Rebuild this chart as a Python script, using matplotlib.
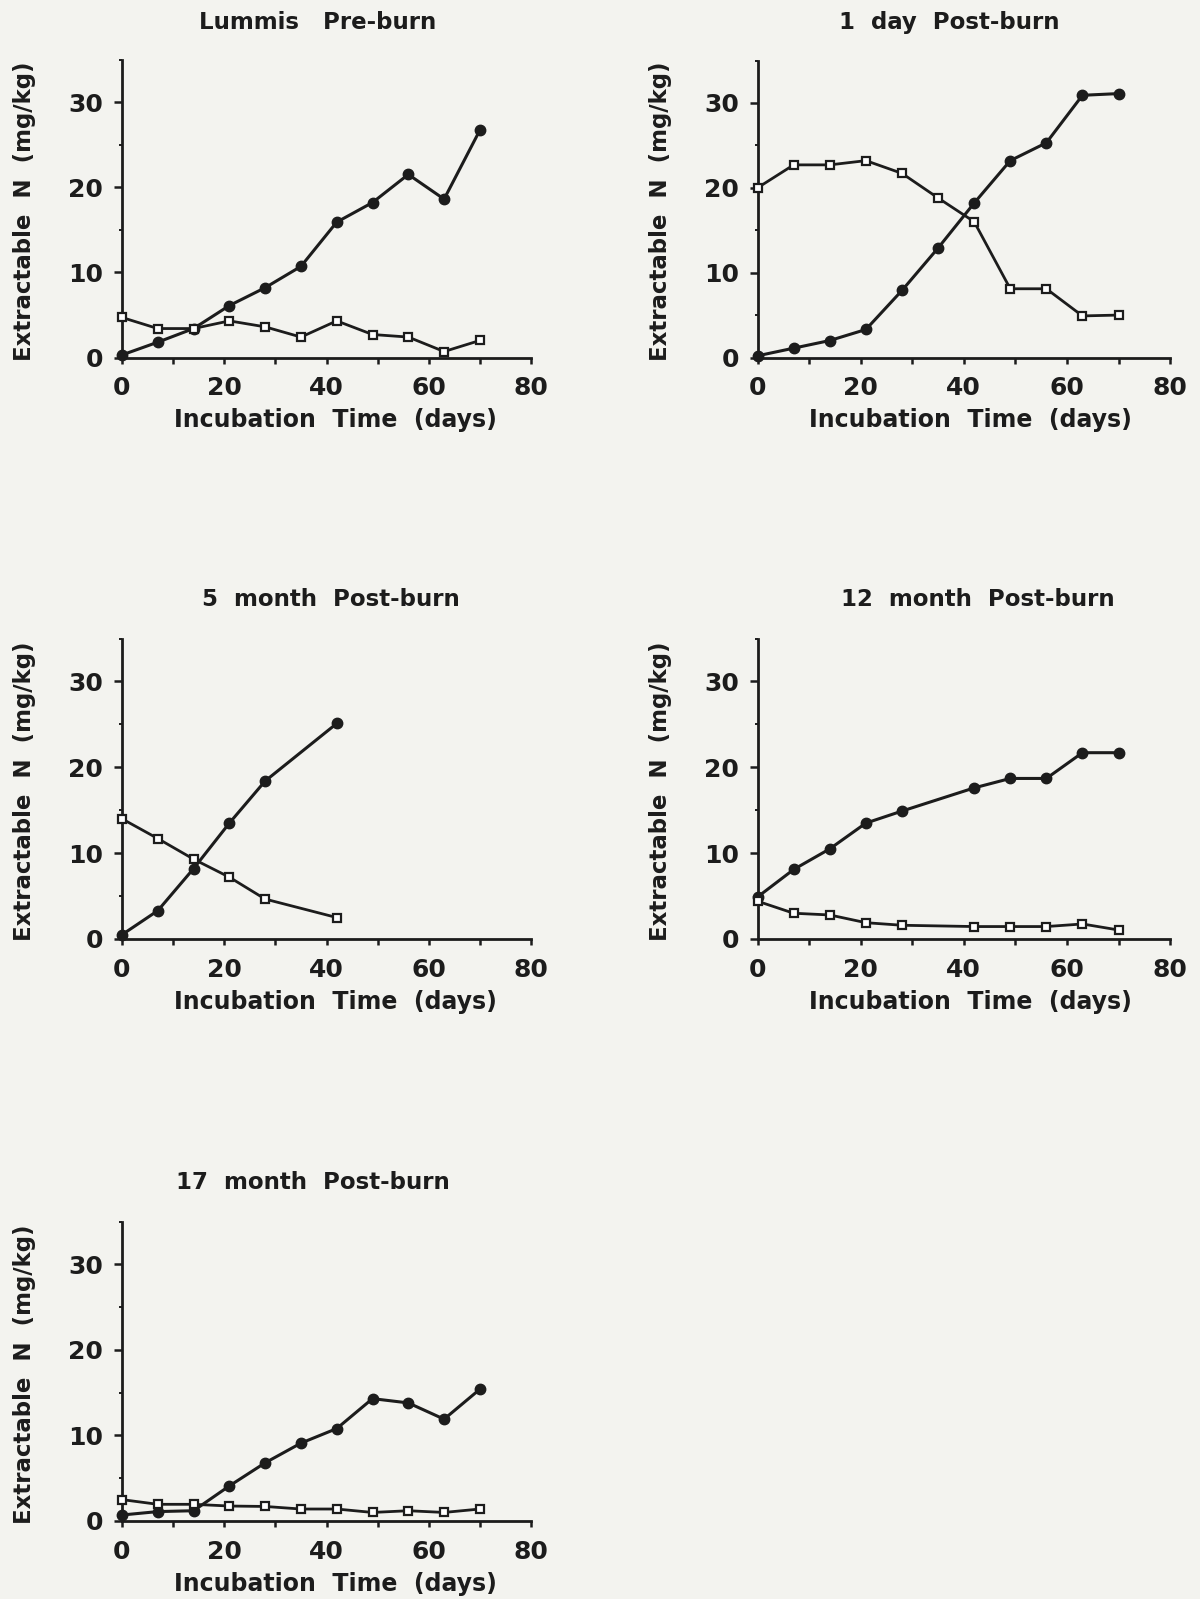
import matplotlib
matplotlib.use("Agg")
import matplotlib.pyplot as plt
from matplotlib.ticker import MultipleLocator

# Incubation days and extractable N (mg/kg) for each burn stage
days_full = [0, 7, 14, 21, 28, 35, 42, 49, 56, 63, 70]
days_5mo = [0, 7, 14, 21, 28, 42]
days_12mo = [0, 7, 14, 21, 28, 42, 49, 56, 63, 70]

titles = ["Lummis   Pre-burn", "1  day  Post-burn", "5  month  Post-burn",
          "12  month  Post-burn", "17  month  Post-burn"]

pre_filled = [0.3, 1.8, 3.4, 6.1, 8.2, 10.7, 15.9, 18.2, 21.5, 18.6, 26.7]
pre_open = [4.7, 3.4, 3.4, 4.3, 3.6, 2.4, 4.3, 2.7, 2.4, 0.7, 2.0]

d1_filled = [0.2, 1.1, 2.0, 3.3, 7.9, 12.9, 18.2, 23.2, 25.3, 30.9, 31.1]
d1_open = [20.0, 22.7, 22.7, 23.2, 21.7, 18.8, 16.0, 8.1, 8.1, 4.9, 5.0]

m5_filled = [0.5, 3.3, 8.2, 13.5, 18.4, 25.1]
m5_open = [14.0, 11.7, 9.3, 7.2, 4.65, 2.5]

m12_filled = [4.9, 8.1, 10.5, 13.5, 14.9, 17.6, 18.7, 18.7, 21.7, 21.7]
m12_open = [4.4, 3.0, 2.8, 1.9, 1.6, 1.45, 1.45, 1.45, 1.75, 1.05]

m17_filled = [0.7, 1.1, 1.2, 4.1, 6.8, 9.1, 10.8, 14.3, 13.8, 11.9, 15.4]
m17_open = [2.5, 1.95, 1.95, 1.75, 1.7, 1.4, 1.4, 1.0, 1.2, 1.0, 1.4]

x_ticks = [0, 20, 40, 60, 80]
y_ticks = [0, 10, 20, 30]

panels = [
    (days_full, pre_filled, pre_open),
    (days_full, d1_filled, d1_open),
    (days_5mo, m5_filled, m5_open),
    (days_12mo, m12_filled, m12_open),
    (days_full, m17_filled, m17_open),
]

W, H = 1200, 1599
BG = "#f3f3ef"
INK = "#1c1c1c"
FONT = "DejaVu Sans"

fig = plt.figure(figsize=(W / 100, H / 100), dpi=100, facecolor=BG)

# (left x of day 0, width to day 80, y of value 0, y of value 35) in pixels
frames = [
    (122.0, 409.0, 357.5, 59.5),
    (757.6, 412.5, 357.5, 60.5),
    (122.0, 409.0, 939.0, 638.5),
    (757.6, 412.5, 939.0, 638.5),
    (122.0, 409.0, 1521.0, 1221.5),
]
title_centers = [(318, 22.5), (949, 22.5), (331, 599.5), (978, 599.5),
                 (312.5, 1182.5)]

for (days, filled, opened), (x0, w, y0, ytop), title, (tx, ty) in zip(
        panels, frames, titles, title_centers):
    h = y0 - ytop
    ax = fig.add_axes([x0 / W, 1 - y0 / H, w / W, h / H])
    ax.set_facecolor(BG)
    ax.plot(days, filled, color=INK, lw=2.2, marker="o", ms=7.5,
            mfc=INK, mec=INK, clip_on=False, zorder=3)
    ax.plot(days, opened, color=INK, lw=2.0, marker="s", ms=6.0,
            mfc="white", mec=INK, mew=1.6, clip_on=False, zorder=4)
    ax.set_xlim(0, 80)
    ax.set_ylim(0, 35)
    ax.set_xticks(x_ticks)
    ax.set_yticks(y_ticks)
    ax.xaxis.set_minor_locator(MultipleLocator(10))
    ax.yaxis.set_minor_locator(MultipleLocator(5))
    for side in ("top", "right"):
        ax.spines[side].set_visible(False)
    for side in ("left", "bottom"):
        ax.spines[side].set_linewidth(2.0)
        ax.spines[side].set_color(INK)
    ax.tick_params(axis="x", which="major", direction="out", length=4.5,
                   width=1.8, color=INK, pad=9)
    ax.tick_params(axis="x", which="minor", direction="out", length=4.5,
                   width=1.8, color=INK)
    ax.tick_params(axis="y", which="major", direction="out", length=6,
                   width=1.8, color=INK, pad=7.5)
    ax.tick_params(axis="y", which="minor", direction="out", length=2,
                   width=1.4, color=INK)
    for lab in ax.get_xticklabels() + ax.get_yticklabels():
        lab.set_fontfamily(FONT)
        lab.set_fontweight("bold")
        lab.set_fontsize(18)
        lab.set_color(INK)
    ax.set_xlabel("Incubation  Time  (days)", fontfamily=FONT,
                  fontweight="bold", fontsize=17, color=INK)
    ax.xaxis.label.set_verticalalignment("center")
    ax.xaxis.set_label_coords(213 / w, -62.5 / h)
    ax.set_ylabel("Extractable  N  (mg/kg)", fontfamily=FONT,
                  fontweight="bold", fontsize=16.5, color=INK)
    ax.yaxis.label.set_verticalalignment("center")
    ax.yaxis.set_label_coords(-97.5 / w, 0.491)
    fig.text(tx / W, 1 - ty / H, title, ha="center", va="center",
             fontfamily=FONT, fontweight="bold", fontsize=16.5, color=INK)

fig.savefig("out.png", dpi=100, facecolor=BG)
